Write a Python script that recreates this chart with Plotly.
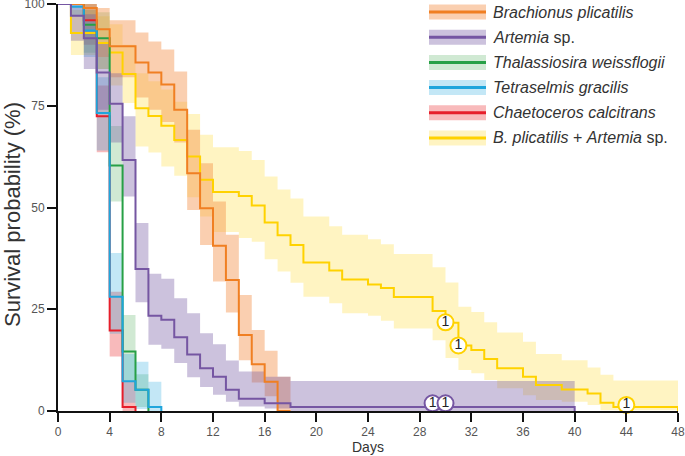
import plotly.graph_objects as go

# ---------------- data ----------------
# t_*: step change days; s_*: survival from t[i] to t[i+1] (last = value at the end)
# hi_*/lo_*: confidence band per interval
t_brach = [0, 2, 3, 4, 6, 7, 8, 9, 10, 11, 12, 13, 14, 15, 16, 17, 18]
s_brach = [100, 99, 93.8, 89.6, 85.6, 83.2, 80.2, 74, 58.4, 49.8, 40.6, 32.2, 18.7, 11.5, 7.2, 0, 0]
hi_brach = [100, 100, 99, 96, 93, 90.8, 88.8, 83.4, 69.1, 60.9, 51.5, 43.3, 28.5, 19.9, 14.8, 8.4]
lo_brach = [100, 96, 87, 82, 77, 74, 71, 66, 49.4, 40.8, 31.8, 24.2, 12.5, 7, 3.6, 0]

t_art = [0, 1, 2, 3, 4, 5, 6, 7, 8, 9, 10, 11, 12, 13, 14, 16, 18, 40]
s_art = [100, 97.1, 91.6, 83.2, 75.5, 61.7, 34.9, 23.4, 22.4, 18.1, 13.9, 10.5, 8.4, 5.2, 3.0, 1.9, 1.0, 0]
hi_art = [100, 100, 97.5, 90.5, 83, 72.4, 46.2, 33.7, 32.5, 27.7, 24, 19.1, 16.4, 12.4, 9.7, 8.4, 7.4]
lo_art = [100, 91, 84, 74, 66, 52.7, 26.7, 16.3, 15.3, 11.8, 8.3, 5.9, 4, 2.3, 1.1, 0.6, 0]

t_thal = [0, 2, 3, 4, 5, 6, 7]
s_thal = [100, 94.9, 91.6, 60.3, 14.6, 5.2, 0]
hi_thal = [100, 100, 98, 70, 23.6, 9]
lo_thal = [100, 88, 84, 51.5, 7.2, 1]

t_tetra = [0, 1, 2, 3, 4, 5, 6, 7, 8]
s_tetra = [100, 99.3, 93.5, 73.2, 28.1, 7.3, 5.2, 1.0, 0]
hi_tetra = [100, 100, 98.5, 82, 38.8, 14, 12.1, 7.2]
lo_tetra = [100, 97, 87, 64, 19, 2, 0.5, 0]

t_chaet = [0, 2, 3, 4, 5, 6]
s_chaet = [100, 96, 72.4, 19.8, 1.0, 0]
hi_chaet = [100, 100, 80, 29.3, 7.2]
lo_chaet = [100, 90, 63.6, 13.4, 0]

t_mix = [0, 1, 3, 4, 5, 6, 7, 8, 9, 10, 11, 12, 14, 15, 16, 17, 18, 19, 21, 22,
         24, 25, 26, 29, 30, 31, 32, 33, 34, 36, 37, 39, 41, 42, 43, 48]
s_mix = [100, 92.9, 90.4, 88.1, 82.8, 74.4, 72.5, 70.1, 66.6, 62.5, 56.8, 53.8, 52.8, 50.5,
         46.3, 43.2, 40.8, 36.5, 34.5, 32.3, 31.1, 30.2, 28.0, 24.6, 21.7, 16.1, 15.0, 12.8,
         10.5, 8.4, 6.4, 5.3, 4.3, 2.0, 1.0, 0]
hi_mix = [100, 98.5, 97, 95, 90, 83, 81, 79, 76, 73, 67.9, 64.8, 63.9, 61.7, 57.6, 54.4,
          52.2, 47.8, 45.4, 43.3, 42.2, 41.0, 38.6, 35.3, 31.6, 25.6, 24.3, 21.8, 19.3, 17.0,
          14.0, 12.5, 10.7, 8.9, 7.5]
lo_mix = [100, 87.5, 84, 80, 75.7, 65, 63.5, 60.1, 57.8, 52.5, 47.8, 44, 42.5, 41.6, 37.3,
          34.3, 31.5, 28.1, 26.5, 24.0, 23.4, 22.2, 20.3, 17.4, 13, 10.1, 9.3, 7.6, 5.6, 3.9,
          2.7, 2.3, 1.5, 0.2, 0.2]

# censored observations (labelled "1")
cens_mix_x = [30, 31, 44]
cens_mix_y = [21.8, 16.1, 1.5]
cens_art_x = [29, 30]
cens_art_y = [1.9, 1.9]

legend_labels = ["<i>Brachionus plicatilis</i>", "<i>Artemia</i> sp.",
                 "<i>Thalassiosira weissflogii</i>", "<i>Tetraselmis gracilis</i>",
                 "<i>Chaetoceros calcitrans</i>", "<i>B. plicatilis</i> + <i>Artemia</i> sp."]

x_ticks = list(range(0, 49, 4))
y_ticks = [0, 25, 50, 75, 100]

# ---------------- styling ----------------
C = {
    "brach": ("#F07F22", "rgba(243,140,66,0.42)"),
    "art":   ("#7556A2", "rgba(115,86,160,0.36)"),
    "thal":  ("#27A046", "rgba(60,165,70,0.24)"),
    "tetra": ("#1FA5DC", "rgba(34,166,220,0.27)"),
    "chaet": ("#E61E2A", "rgba(232,40,42,0.32)"),
    "mix":   ("#FFD200", "rgba(255,210,0,0.24)"),
}
series = {
    "brach": (t_brach, s_brach, hi_brach, lo_brach),
    "art": (t_art, s_art, hi_art, lo_art),
    "thal": (t_thal, s_thal, hi_thal, lo_thal),
    "tetra": (t_tetra, s_tetra, hi_tetra, lo_tetra),
    "chaet": (t_chaet, s_chaet, hi_chaet, lo_chaet),
    "mix": (t_mix, s_mix, hi_mix, lo_mix),
}
legend_order = ["brach", "art", "thal", "tetra", "chaet", "mix"]
draw_order = ["mix", "chaet", "thal", "tetra", "brach", "art"]

FONT = "Liberation Sans, Arial, sans-serif"
fig = go.Figure()

# bands
for k in draw_order:
    t, s, hi, lo = series[k]
    fig.add_trace(go.Scatter(x=t, y=lo + [lo[-1]], mode="lines",
                             line=dict(width=0, shape="hv"), showlegend=False,
                             hoverinfo="skip"))
    fig.add_trace(go.Scatter(x=t, y=hi + [hi[-1]], mode="lines",
                             line=dict(width=0, shape="hv"), fill="tonexty",
                             fillcolor=C[k][1], showlegend=False, hoverinfo="skip"))

# step lines
for k in draw_order:
    t, s, hi, lo = series[k]
    fig.add_trace(go.Scatter(x=t, y=s, mode="lines",
                             line=dict(width=2, shape="hv", color=C[k][0]),
                             showlegend=False))

# censor markers
for xs, ys, col in [(cens_art_x, cens_art_y, C["art"][0]), (cens_mix_x, cens_mix_y, C["mix"][0])]:
    fig.add_trace(go.Scatter(x=xs, y=ys, mode="markers+text", text=["1"] * len(xs),
                             textposition="middle center",
                             textfont=dict(family=FONT, size=14, color="#222"),
                             marker=dict(symbol="circle", size=16, color="white",
                                         line=dict(color=col, width=2)),
                             showlegend=False, cliponaxis=False))

# custom legend (band rectangle + line + italic label)
W, H = 685, 456
ML, MR, MT, MB = 58, 7, 4, 45
pw, ph = W - ML - MR, H - MT - MB

def px(xp):
    return (xp - ML) / pw

def py(yp):
    return (H - MB - yp) / ph

shapes = []
annotations = []
for i, k in enumerate(legend_order):
    yc = 12 + i * 25.2
    shapes.append(dict(type="rect", xref="paper", yref="paper",
                       x0=px(429), x1=px(486), y0=py(yc + 7.5), y1=py(yc - 7.5),
                       fillcolor=C[k][1], line=dict(width=0)))
    shapes.append(dict(type="line", xref="paper", yref="paper",
                       x0=px(429), x1=px(486), y0=py(yc), y1=py(yc),
                       line=dict(color=C[k][0], width=3)))
    annotations.append(dict(xref="paper", yref="paper", x=px(491), y=py(yc),
                            xanchor="left", yanchor="middle", showarrow=False,
                            text=legend_labels[i],
                            font=dict(family=FONT, size=16, color="#333")))

# axis titles
annotations.append(dict(xref="paper", yref="paper", x=0.5, y=py(447),
                        xanchor="center", yanchor="middle", showarrow=False,
                        text="Days", font=dict(family=FONT, size=14, color="#333")))
annotations.append(dict(xref="paper", yref="paper", x=px(12), y=py(215),
                        xanchor="center", yanchor="middle", showarrow=False,
                        textangle=-90, text="Survival probability (%)",
                        font=dict(family=FONT, size=22, color="#333")))

fig.update_layout(
    width=W, height=H,
    margin=dict(l=ML, r=MR, t=MT, b=MB, autoexpand=False),
    paper_bgcolor="white", plot_bgcolor="white",
    showlegend=False,
    shapes=shapes, annotations=annotations,
    font=dict(family=FONT, color="#555"),
)
fig.update_xaxes(range=[0, 48], tickvals=x_ticks, ticks="outside", ticklen=9, tickwidth=2,
                 tickcolor="#111", showline=True, linecolor="#111", linewidth=2,
                 showgrid=False, zeroline=False, automargin=False,
                 ticklabeloverflow="allow",
                 tickfont=dict(family=FONT, size=12, color="#555"))
fig.update_yaxes(range=[0, 100], tickvals=y_ticks, ticks="outside", ticklen=9, tickwidth=2,
                 tickcolor="#111", showline=True, linecolor="#111", linewidth=2,
                 showgrid=False, zeroline=False, automargin=False,
                 ticklabeloverflow="allow",
                 tickfont=dict(family=FONT, size=12, color="#555"))

fig.write_html("out.html", config={"displayModeBar": False},
               post_script="document.body.style.margin='0px';")
